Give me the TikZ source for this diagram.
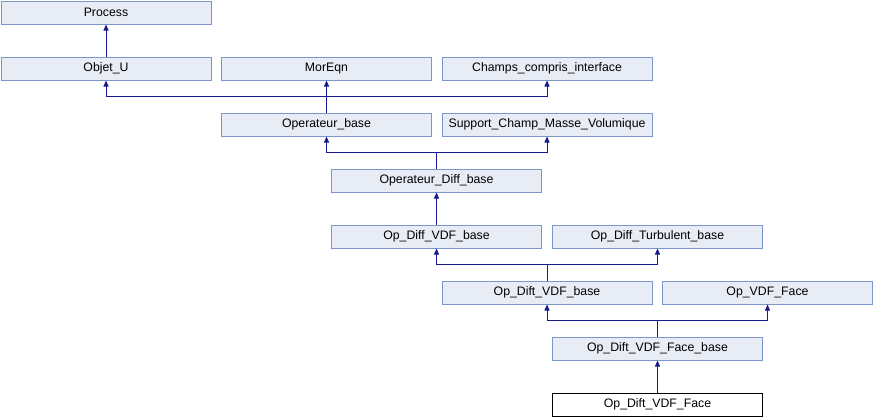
\documentclass[tikz,border=0pt]{standalone}
\usepackage{fontspec}
\setmainfont{Liberation Sans}
\usetikzlibrary{arrows.meta}

\definecolor{boxfill}{RGB}{232,236,244}
\definecolor{boxline}{RGB}{122,150,204}
\definecolor{inhline}{RGB}{25,25,140}

\begin{document}
\begin{tikzpicture}[x=1pt, y=-1pt,
  cls/.style={draw=boxline, fill=boxfill, line width=1pt, minimum width=210pt,
    minimum height=23pt, inner sep=0pt, font=\fontsize{12.3}{14}\selectfont},
  leaf/.style={cls, draw=black, fill=white},
  inh/.style={draw=inhline, line width=1pt, -{Triangle[length=6pt,width=5pt]}}]

\useasboundingbox (0,0) rectangle (874,416);

\node[cls] (process) at (106, 12.5) {Process};
\node[cls] (objetu) at (106, 68.5) {Objet\_U};
\node[cls] (moreqn) at (326.5, 68.5) {MorEqn};
\node[cls] (champs) at (547, 68.5) {Champs\_compris\_interface};
\node[cls] (opbase) at (326.5, 124.5) {Operateur\_base};
\node[cls] (support) at (547, 124.5) {Support\_Champ\_Masse\_Volumique};
\node[cls] (opdiff) at (436.5, 180.5) {Operateur\_Diff\_base};
\node[cls] (diffvdf) at (436.5, 236.5) {Op\_Diff\_VDF\_base};
\node[cls] (diffturb) at (657.5, 236.5) {Op\_Diff\_Turbulent\_base};
\node[cls] (diftvdf) at (547, 292.5) {Op\_Dift\_VDF\_base};
\node[cls] (vdfface) at (767.5, 292.5) {Op\_VDF\_Face};
\node[cls] (diftfacebase) at (657.5, 348.5) {Op\_Dift\_VDF\_Face\_base};
\node[leaf] (diftface) at (657.5, 404.5) {Op\_Dift\_VDF\_Face};

\draw[inh] (objetu) -- (process);
\draw[inh] (opbase.north) -- ++(0,-16) -| (objetu.south);
\draw[inh] (opbase) -- (moreqn);
\draw[inh] (opbase.north) -- ++(0,-16) -| (champs.south);
\draw[inh] (opdiff.north) -- ++(0,-16) -| (opbase.south);
\draw[inh] (opdiff.north) -- ++(0,-16) -| (support.south);
\draw[inh] (diffvdf) -- (opdiff);
\draw[inh] (diftvdf.north) -- ++(0,-16) -| (diffvdf.south);
\draw[inh] (diftvdf.north) -- ++(0,-16) -| (diffturb.south);
\draw[inh] (diftfacebase.north) -- ++(0,-16) -| (diftvdf.south);
\draw[inh] (diftfacebase.north) -- ++(0,-16) -| (vdfface.south);
\draw[inh] (diftface) -- (diftfacebase);

\end{tikzpicture}
\end{document}
